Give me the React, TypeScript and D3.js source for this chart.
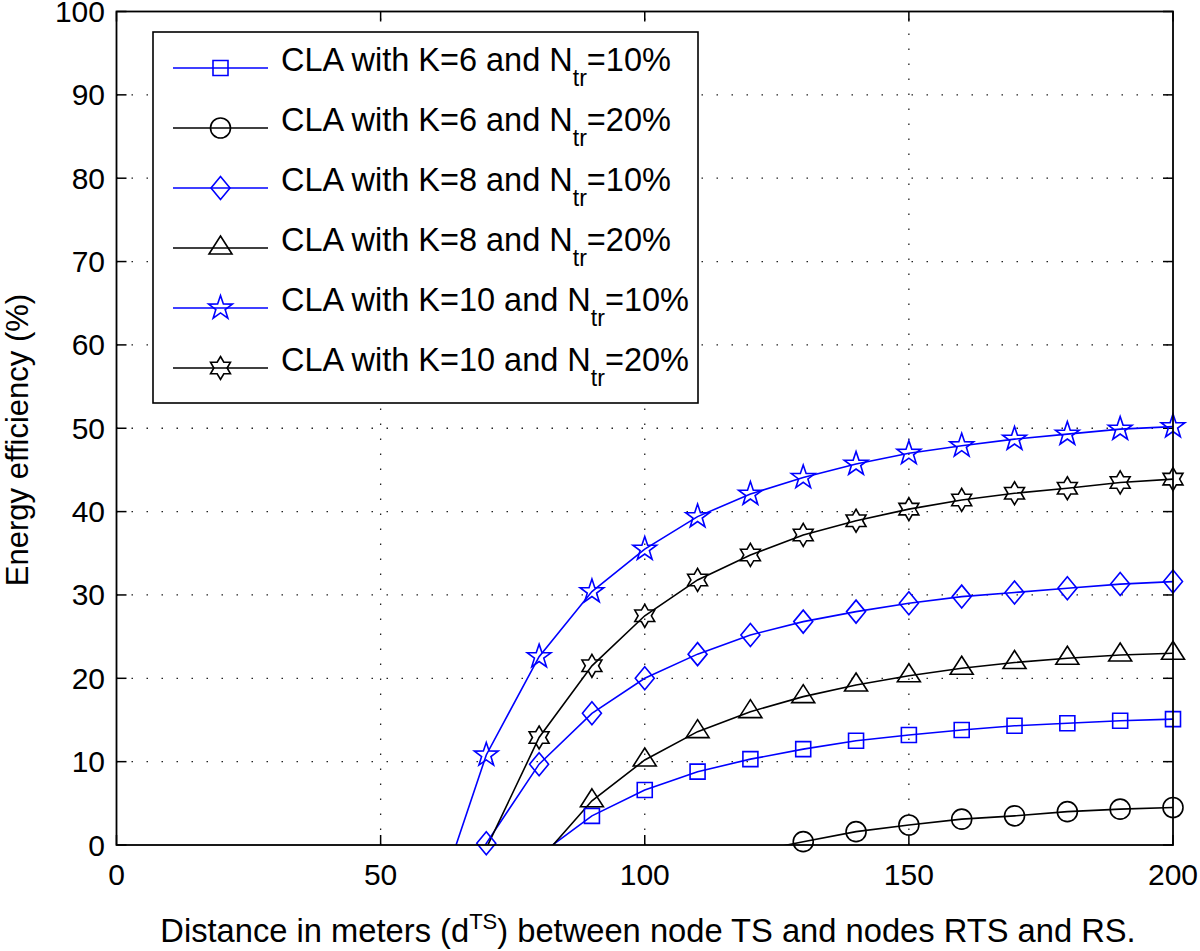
import React from "react";
import * as d3 from "d3";

// ---- data ----
const xTicks = [0, 50, 100, 150, 200];
const yTicks = [0, 10, 20, 30, 40, 50, 60, 70, 80, 90, 100];

const xK6N10 = [80, 90, 100, 110, 120, 130, 140, 150, 160, 170, 180, 190, 200];
const yK6N10 = [-1.2, 3.5, 6.6, 8.8, 10.3, 11.5, 12.5, 13.2, 13.8, 14.3, 14.6, 14.9, 15.1];

const xK6N20 = [120, 130, 140, 150, 160, 170, 180, 190, 200];
const yK6N20 = [-0.9, 0.4, 1.6, 2.4, 3.1, 3.5, 4.0, 4.3, 4.5];

const xK8N10 = [60, 70, 80, 90, 100, 110, 120, 130, 140, 150, 160, 170, 180, 190, 200];
const yK8N10 = [-13, 0.2, 9.7, 15.8, 20.0, 22.9, 25.2, 26.8, 28.0, 29.0, 29.8, 30.3, 30.8, 31.3, 31.6];

const xK8N20 = [80, 90, 100, 110, 120, 130, 140, 150, 160, 170, 180, 190, 200];
const yK8N20 = [-1.9, 5.3, 10.2, 13.6, 16.0, 17.8, 19.2, 20.3, 21.2, 21.9, 22.4, 22.8, 23.0];

const xK10N10 = [60, 70, 80, 90, 100, 110, 120, 130, 140, 150, 160, 170, 180, 190, 200];
const yK10N10 = [-8.1, 10.8, 22.6, 30.4, 35.5, 39.4, 42.1, 44.1, 45.7, 47.0, 47.9, 48.7, 49.3, 49.9, 50.2];

const xK10N20 = [70, 80, 90, 100, 110, 120, 130, 140, 150, 160, 170, 180, 190, 200];
const yK10N20 = [-0.4, 12.9, 21.5, 27.5, 31.8, 34.8, 37.2, 38.9, 40.3, 41.4, 42.2, 42.8, 43.5, 43.9];

const seriesNames = [
  ["CLA with K=6 and N", "=10%"],
  ["CLA with K=6 and N", "=20%"],
  ["CLA with K=8 and N", "=10%"],
  ["CLA with K=8 and N", "=20%"],
  ["CLA with K=10 and N", "=10%"],
  ["CLA with K=10 and N", "=20%"],
];
const seriesColors = ["#0000ff", "#000000", "#0000ff", "#000000", "#0000ff", "#000000"];
const seriesMarkers = ["square", "circle", "diamond", "triangle", "pentagram", "hexagram"];

const series = [
  { xs: xK6N10, ys: yK6N10 },
  { xs: xK6N20, ys: yK6N20 },
  { xs: xK8N10, ys: yK8N10 },
  { xs: xK8N20, ys: yK8N20 },
  { xs: xK10N10, ys: yK10N10 },
  { xs: xK10N20, ys: yK10N20 },
];

// ---- layout ----
const W = 1200;
const H = 951;
const left = 116.5;
const right = 1173;
const top = 11.5;
const bottom = 845;

const FONT = "'Liberation Sans', Arial, Helvetica, sans-serif";

function starPath(n: number, R: number, r: number) {
  const pts: string[] = [];
  for (let i = 0; i < 2 * n; i++) {
    const rad = i % 2 === 0 ? R : r;
    const a = -Math.PI / 2 + (i * Math.PI) / n;
    pts.push(`${(rad * Math.cos(a)).toFixed(2)},${(rad * Math.sin(a)).toFixed(2)}`);
  }
  return "M" + pts.join("L") + "Z";
}

function markerPath(kind: string) {
  switch (kind) {
    case "square":
      return "M-7.5,-7.5L7.5,-7.5L7.5,7.5L-7.5,7.5Z";
    case "circle":
      return "M10,0A10,10 0 1,1 -10,0A10,10 0 1,1 10,0Z";
    case "diamond":
      return "M0,-11.5L9.5,0L0,11.5L-9.5,0Z";
    case "triangle":
      return "M0,-12L11.5,6L-11.5,6Z";
    case "pentagram":
      return starPath(5, 12.5, 4.9);
    case "hexagram":
      return starPath(6, 11.5, 6.64);
    default:
      return "";
  }
}

export default function App() {
  const x = d3.scaleLinear().domain([0, 200]).range([left, right]);
  const y = d3.scaleLinear().domain([0, 100]).range([bottom, top]);
  const line = d3
    .line<[number, number]>()
    .x((d) => x(d[0]))
    .y((d) => y(d[1]));

  const legendX = 153;
  const legendY = 32;
  const legendW = 545;
  const legendH = 371;
  const rowY = (i: number) => 68 + 60 * i;

  return (
    <svg
      width={W}
      height={H}
      viewBox={`0 0 ${W} ${H}`}
      style={{ position: "absolute", left: 0, top: 0, background: "#fff" }}
      fontFamily={FONT}
    >
      <rect x={0} y={0} width={W} height={H} fill="#fff" />
      <defs>
        <clipPath id="plotClip">
          <rect x={left} y={top} width={right - left} height={bottom - top} />
        </clipPath>
      </defs>

      {/* grid */}
      <g stroke="#222" strokeWidth={1.3} strokeDasharray="1.5 13.5">
        {xTicks
          .filter((t) => t > 0 && t < 200)
          .map((t) => (
            <line key={"gx" + t} x1={x(t)} x2={x(t)} y1={bottom} y2={top} />
          ))}
        {yTicks
          .filter((t) => t > 0 && t < 100)
          .map((t) => (
            <line key={"gy" + t} x1={left} x2={right} y1={y(t)} y2={y(t)} />
          ))}
      </g>

      {/* ticks */}
      <g stroke="#000" strokeWidth={1.5}>
        {xTicks.map((t) => (
          <g key={"tx" + t}>
            <line x1={x(t)} x2={x(t)} y1={bottom} y2={bottom - 10} />
            <line x1={x(t)} x2={x(t)} y1={top} y2={top + 10} />
          </g>
        ))}
        {yTicks.map((t) => (
          <g key={"ty" + t}>
            <line x1={left} x2={left + 10} y1={y(t)} y2={y(t)} />
            <line x1={right} x2={right - 10} y1={y(t)} y2={y(t)} />
          </g>
        ))}
      </g>

      {/* series lines */}
      <g clipPath="url(#plotClip)" fill="none" strokeWidth={1.6}>
        {series.map((s, i) => (
          <path
            key={"l" + i}
            d={line(s.xs.map((v, j) => [v, s.ys[j]] as [number, number])) || ""}
            stroke={seriesColors[i]}
          />
        ))}
      </g>

      {/* markers */}
      <g fill="none" strokeWidth={1.6}>
        {series.map((s, i) =>
          s.xs.map((v, j) =>
            s.ys[j] >= 0 ? (
              <path
                key={"m" + i + "_" + j}
                d={markerPath(seriesMarkers[i])}
                transform={`translate(${x(v)},${y(s.ys[j])})`}
                stroke={seriesColors[i]}
              />
            ) : null
          )
        )}
      </g>

      {/* axes box */}
      <rect
        x={left}
        y={top}
        width={right - left}
        height={bottom - top}
        fill="none"
        stroke="#000"
        strokeWidth={1.8}
      />

      {/* tick labels */}
      <g fontSize={30} fill="#000">
        {xTicks.map((t) => (
          <text key={"xl" + t} x={x(t)} y={885} textAnchor="middle">
            {t}
          </text>
        ))}
        {yTicks.map((t) => (
          <text key={"yl" + t} x={105} y={y(t) + 10.5} textAnchor="end">
            {t}
          </text>
        ))}
      </g>

      {/* axis titles */}
      <text x={648} y={942} fontSize={32.7} textAnchor="middle" fill="#000">
        Distance in meters (d
        <tspan fontSize={22} dy={-13}>
          TS
        </tspan>
        <tspan dy={13}>) between node TS and nodes RTS and RS.</tspan>
      </text>
      <text
        transform={`translate(28,440) rotate(-90)`}
        fontSize={31}
        textAnchor="middle"
        fill="#000"
      >
        Energy efficiency (%)
      </text>

      {/* legend */}
      <rect
        x={legendX}
        y={legendY}
        width={legendW}
        height={legendH}
        fill="#fff"
        stroke="#000"
        strokeWidth={1.6}
      />
      {seriesNames.map((nm, i) => (
        <g key={"lg" + i}>
          <line
            x1={173}
            x2={268}
            y1={rowY(i)}
            y2={rowY(i)}
            stroke={seriesColors[i]}
            strokeWidth={1.6}
          />
          <path
            d={markerPath(seriesMarkers[i])}
            transform={`translate(220.5,${rowY(i)})`}
            fill="none"
            stroke={seriesColors[i]}
            strokeWidth={1.6}
          />
          <text x={281} y={rowY(i) + 3} fontSize={32.5} fill="#000">
            {nm[0]}
            <tspan fontSize={23} dy={15}>
              tr
            </tspan>
            <tspan dy={-15}>{nm[1]}</tspan>
          </text>
        </g>
      ))}
    </svg>
  );
}
